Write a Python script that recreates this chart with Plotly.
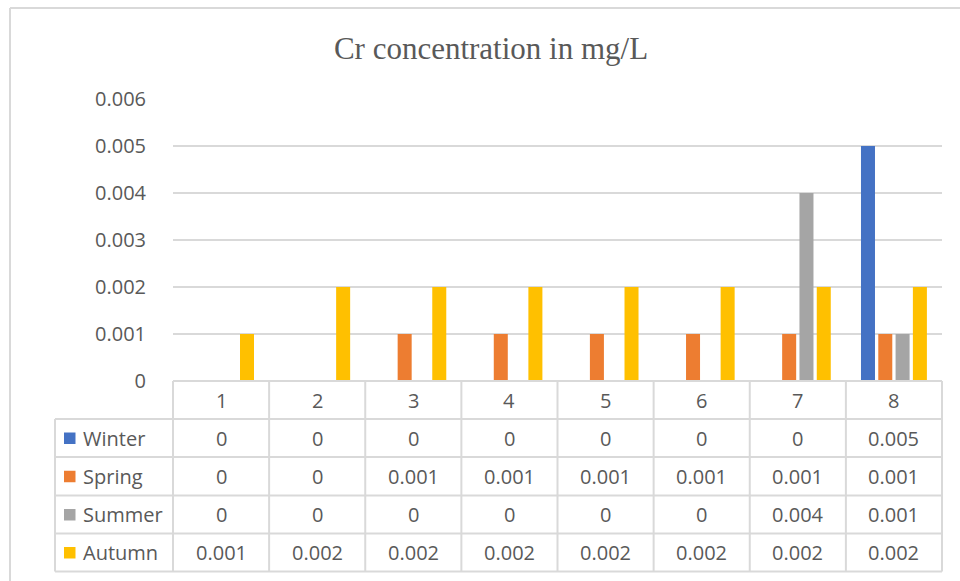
import plotly.graph_objects as go

# ---- data ----
categories = ["1", "2", "3", "4", "5", "6", "7", "8"]
series_names = ["Winter", "Spring", "Summer", "Autumn"]
winter = [0, 0, 0, 0, 0, 0, 0, 0.005]
spring = [0, 0, 0.001, 0.001, 0.001, 0.001, 0.001, 0.001]
summer = [0, 0, 0, 0, 0, 0, 0.004, 0.001]
autumn = [0.001, 0.002, 0.002, 0.002, 0.002, 0.002, 0.002, 0.002]
colors = ["#4472C4", "#ED7D31", "#A5A5A5", "#FFC000"]
title_text = "Cr concentration in mg/L"

all_series = [winter, spring, summer, autumn]

# ---- layout geometry (pixels) ----
W, H = 960, 581
L, R, T, B = 173, 942, 99, 381
PW, PH = R - L, B - T
TEXT = "#595959"
LINE = "#D9D9D9"
FONT = "Open Sans"
FS = 20


def px(xp):
    return (xp - L) / PW


def py(yp):
    return (B - yp) / PH


fig = go.Figure()
for name, vals, c in zip(series_names, all_series, colors):
    fig.add_trace(go.Bar(x=categories, y=vals, name=name, marker=dict(color=c, line=dict(width=0))))

shapes = []
annotations = []

# outer chart frame
shapes.append(dict(type="line", xref="paper", yref="paper", x0=px(10), x1=px(962), y0=py(8), y1=py(8),
                   line=dict(color=LINE, width=2)))
shapes.append(dict(type="line", xref="paper", yref="paper", x0=px(10), x1=px(10), y0=py(8), y1=py(583),
                   line=dict(color=LINE, width=2)))

# data table
rows = [B, 419, 457, 495.5, 533.5, 571.5]
tab_left = 55
n = len(categories)
for i, ry in enumerate(rows):
    x0 = L if i == 0 else tab_left
    shapes.append(dict(type="line", xref="paper", yref="paper", x0=px(x0), x1=1, y0=py(ry), y1=py(ry),
                       line=dict(color=LINE, width=2)))
for k in range(n + 1):
    xx = k / n
    shapes.append(dict(type="line", xref="paper", yref="paper", x0=xx, x1=xx, y0=py(rows[0]), y1=py(rows[-1]),
                       line=dict(color=LINE, width=2)))
shapes.append(dict(type="line", xref="paper", yref="paper", x0=px(tab_left), x1=px(tab_left),
                   y0=py(rows[1]), y1=py(rows[-1]), line=dict(color=LINE, width=2)))

# header row labels (categories)
for k, cat in enumerate(categories):
    annotations.append(dict(xref="paper", yref="paper", x=(k + 0.5) / n, y=py((rows[0] + rows[1]) / 2),
                            text=cat, showarrow=False, font=dict(family=FONT, size=FS, color=TEXT),
                            xanchor="center", yanchor="middle"))

# series rows
for r, (name, vals, c) in enumerate(zip(series_names, all_series, colors)):
    yc = (rows[r + 1] + rows[r + 2]) / 2
    shapes.append(dict(type="rect", xref="paper", yref="paper", x0=px(64), x1=px(75.5),
                       y0=py(yc - 5.5), y1=py(yc + 6), line=dict(width=0), fillcolor=c))
    annotations.append(dict(xref="paper", yref="paper", x=px(81), y=py(yc), text=name, showarrow=False,
                            font=dict(family=FONT, size=FS, color=TEXT), xanchor="left", yanchor="middle"))
    for k, v in enumerate(vals):
        annotations.append(dict(xref="paper", yref="paper", x=(k + 0.5) / n, y=py(yc), text=f"{v:g}",
                                showarrow=False, font=dict(family=FONT, size=FS, color=TEXT),
                                xanchor="center", yanchor="middle"))

fig.update_layout(
    width=W, height=H,
    margin=dict(l=L, r=W - R, t=T, b=H - B, pad=0),
    paper_bgcolor="white", plot_bgcolor="white",
    barmode="group", bargap=0.28, bargroupgap=0.19,
    showlegend=False,
    title=dict(text=title_text, x=491 / W, xref="container", y=1 - 48 / H, yref="container",
               xanchor="center", yanchor="middle",
               font=dict(family="Liberation Serif", size=31, color=TEXT)),
    xaxis=dict(showticklabels=False, showline=False, showgrid=False, zeroline=False, fixedrange=True),
    yaxis=dict(range=[0, 0.006], dtick=0.001, tickformat=".3~f", showgrid=True, gridcolor=LINE, gridwidth=2,
               zeroline=False, showline=False, ticks="outside", ticklen=22, tickcolor="rgba(0,0,0,0)",
               tickfont=dict(family=FONT, size=FS, color=TEXT)),
    shapes=shapes,
    annotations=annotations,
    font=dict(family=FONT, color=TEXT),
)

fig.write_html("out.html")
